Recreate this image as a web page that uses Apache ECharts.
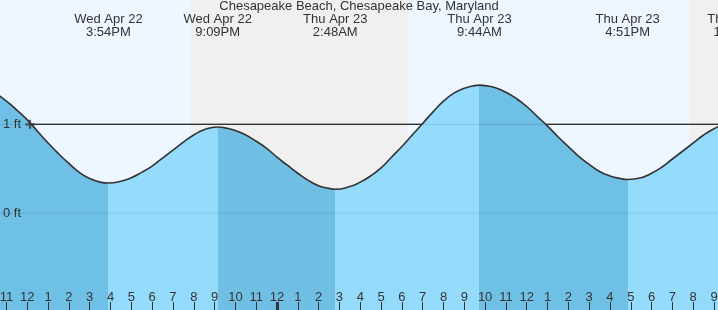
<!DOCTYPE html>
<html><head><meta charset="utf-8">
<script src="https://cdn.jsdelivr.net/npm/echarts@6/dist/echarts.min.js"></script>
<style>html,body{margin:0;padding:0;background:#fff}#c{width:718px;height:310px}</style>
</head><body><div id="c"></div><script>
// ---- data (hours counted from Wed Apr 22 00:00) ----
const TITLE = 'Chesapeake Beach, Chesapeake Bay, Maryland';
const tideHours = [10, 10.5, 11, 11.5, 12, 12.5, 13, 13.5, 14, 14.5, 15, 15.5, 15.9, 16.5, 17, 17.5, 18, 18.5, 19, 19.5, 20, 20.5, 21.15, 21.5, 22, 22.5, 23, 23.5, 24, 24.5, 25, 25.5, 26, 26.5, 26.8, 27.5, 28, 28.5, 29, 29.5, 30, 30.5, 31, 31.5, 32, 32.5, 33, 33.5, 33.73, 34, 34.5, 35, 35.5, 36, 36.5, 37, 37.5, 38, 38.5, 39, 39.5, 40, 40.5, 40.85, 41.5, 42, 42.5, 43, 43.5, 44, 44.5, 45, 45.5, 46.22, 47];
const tideFeet  = [1.38, 1.34, 1.26, 1.16, 1.05, 0.92, 0.79, 0.67, 0.56, 0.46, 0.39, 0.35, 0.34, 0.36, 0.40, 0.46, 0.53, 0.62, 0.71, 0.80, 0.88, 0.94, 0.97, 0.96, 0.93, 0.88, 0.81, 0.73, 0.63, 0.54, 0.45, 0.37, 0.31, 0.28, 0.27, 0.30, 0.35, 0.42, 0.51, 0.63, 0.75, 0.88, 1.01, 1.14, 1.26, 1.35, 1.405, 1.435, 1.44, 1.435, 1.41, 1.36, 1.29, 1.20, 1.09, 0.98, 0.86, 0.75, 0.64, 0.55, 0.47, 0.42, 0.39, 0.38, 0.40, 0.45, 0.52, 0.61, 0.70, 0.79, 0.88, 0.95, 1.00, 1.03, 1.01];
const extremeHours = [15.90, 21.15, 26.80, 33.73, 40.85, 46.22];
const extremeFeet  = [0.34, 0.97, 0.27, 1.44, 0.38, 1.03];
const extremeDates = ['Wed Apr 22', 'Wed Apr 22', 'Thu Apr 23', 'Thu Apr 23', 'Thu Apr 23', 'Thu Apr 23'];
const extremeTimes = ['3:54PM', '9:09PM', '2:48AM', '9:44AM', '4:51PM', '10:13PM'];
const nightStart = [19.82, 43.85];
const nightEnd   = [30.30, 48.00];
const tickHours = [11, 12, 13, 14, 15, 16, 17, 18, 19, 20, 21, 22, 23, 24, 25, 26, 27, 28, 29, 30, 31, 32, 33, 34, 35, 36, 37, 38, 39, 40, 41, 42, 43, 44, 45];
const midnightHours = [24];
const yTickFeet = [0, 1];
const nowHour = 12.13;
const nowFeet = 1.0;
const X_MIN = 10.69, X_MAX = 45.19, Y_MIN = -1.087, Y_MAX = 2.397;

// ---- styles ----
const FONT = 'Liberation Sans, Arial, sans-serif';
const TXT = '#333';
const DARK = '#61BAE3';
const LIGHT = '#8AD8FC';

const tidePoints = tideHours.map((h, i) => [h, tideFeet[i]]);

// fill colour pieces: falling tide dark, rising tide light
const pieces = [];
let prev = -Infinity;
for (let i = 0; i < extremeHours.length; i++) {
  const rising = i > 0 ? extremeFeet[i] > extremeFeet[i - 1] : extremeFeet[i] > extremeFeet[i + 1];
  const p = { color: rising ? LIGHT : DARK, lt: extremeHours[i] };
  if (prev !== -Infinity) p.gte = prev;
  pieces.push(p);
  prev = extremeHours[i];
}
pieces.push({ gte: prev, color: extremeFeet[extremeFeet.length - 1] > extremeFeet[extremeFeet.length - 2] ? DARK : LIGHT });

const gridSeries = yTickFeet.map(v => ({
  type: 'line', z: 2, silent: true, symbol: 'none',
  data: [[X_MIN, v], [X_MAX, v]],
  lineStyle: { color: '#444', width: 1 }
}));

const chart = echarts.init(document.getElementById('c'), null, { renderer: 'canvas' });
chart.setOption({
  animation: false,
  backgroundColor: '#ffffff',
  title: {
    text: TITLE, left: 'center', top: 0, padding: 0,
    textStyle: { fontFamily: FONT, fontSize: 13, fontWeight: 'normal', color: TXT }
  },
  grid: { left: 0, right: 0, top: 0, bottom: 0, containLabel: false, outerBoundsMode: 'none',
          show: true, backgroundColor: '#EEF7FF', borderWidth: 0 },
  xAxis: [{
    type: 'value', min: X_MIN, max: X_MAX, position: 'bottom',
    axisLine: { show: false, onZero: false },
    splitLine: { show: false },
    axisTick: { show: true, inside: true, length: 8, customValues: tickHours, lineStyle: { color: TXT, width: 1 } },
    axisLabel: {
      inside: true, margin: 6, customValues: tickHours, color: TXT, fontFamily: FONT, fontSize: 13,
      formatter: v => String((Math.round(v) % 12) || 12)
    },
    z: 10
  }, {
    type: 'value', min: X_MIN, max: X_MAX, position: 'bottom',
    axisLine: { show: false, onZero: false }, splitLine: { show: false }, axisLabel: { show: false },
    axisTick: { show: true, inside: true, length: 8, customValues: midnightHours, lineStyle: { color: TXT, width: 3 } },
    z: 10
  }],
  yAxis: {
    type: 'value', min: Y_MIN, max: Y_MAX,
    axisLine: { show: false, onZero: false }, axisTick: { show: false }, splitLine: { show: false },
    axisLabel: {
      inside: true, margin: 3, customValues: yTickFeet, color: TXT, fontFamily: FONT, fontSize: 13,
      formatter: v => v + ' ft'
    },
    z: 10
  },
  visualMap: {
    show: false, type: 'piecewise', dimension: 0, seriesIndex: gridSeries.length + 1,
    pieces: pieces
  },
  series: [
    ...gridSeries,
    { // current tide level line, with night shading
      type: 'line', z: 2, silent: true, symbol: 'none',
      data: [[nowHour, nowFeet], [X_MAX, nowFeet]],
      lineStyle: { color: '#333', width: 1.3 },
      markArea: {
        silent: true,
        itemStyle: { color: '#F0F0F0', opacity: 1 },
        data: nightStart.map((s, i) => [{ xAxis: s }, { xAxis: nightEnd[i] }])
      }
    },
    { // tide fill
      type: 'line', z: 3, silent: true, symbol: 'none', smooth: 0.5,
      data: tidePoints,
      lineStyle: { width: 0 },
      areaStyle: { opacity: 0.9, origin: 'start' }
    },
    { // tide curve
      type: 'line', z: 4, silent: true, symbol: 'none', smooth: 0.5,
      data: tidePoints,
      lineStyle: { color: '#333', width: 1.6 }
    },
    { // current time marker
      type: 'scatter', z: 5, silent: true,
      data: [[nowHour, nowFeet]],
      symbol: 'path://M3,0H5V3H8V5H5V8H3V5H0V3H3Z', symbolSize: 9,
      itemStyle: { color: '#333' }
    },
    { // high / low labels
      type: 'custom', z: 6, silent: true, clip: false,
      data: extremeHours.map((h, i) => [h, extremeFeet[i], i]),
      renderItem: (params, api) => {
        const i = api.value(2);
        const x = api.coord([api.value(0), 0])[0];
        return {
          type: 'text', x: x, y: 26,
          style: {
            text: extremeDates[i] + '\n' + extremeTimes[i],
            fill: TXT, font: '13px ' + FONT, lineHeight: 12.5,
            textAlign: 'center', textVerticalAlign: 'middle'
          }
        };
      }
    }
  ]
});
</script></body></html>
